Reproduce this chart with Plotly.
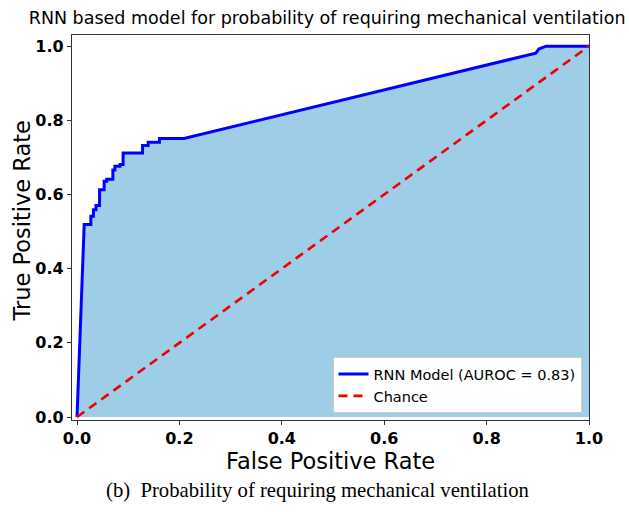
import plotly.graph_objects as go

# ROC curve
fpr = [0.0, 0.014, 0.027, 0.027, 0.032, 0.032, 0.037, 0.037, 0.044, 0.044,
       0.053, 0.053, 0.058, 0.058, 0.070, 0.070, 0.074, 0.074, 0.084, 0.084,
       0.090, 0.090, 0.128, 0.128, 0.139, 0.139, 0.161, 0.161, 0.209, 0.896,
       0.902, 0.916, 1.0]
tpr = [0.0, 0.519, 0.519, 0.541, 0.541, 0.559, 0.559, 0.570, 0.570, 0.613,
       0.613, 0.636, 0.636, 0.641, 0.641, 0.666, 0.666, 0.676, 0.676, 0.681,
       0.681, 0.712, 0.712, 0.732, 0.732, 0.741, 0.741, 0.751, 0.751, 0.981,
       0.992, 1.0, 1.0]
chance_x = [0.0, 1.0]
chance_y = [0.0, 1.0]
auroc = 0.83
tick_vals = [0.0, 0.2, 0.4, 0.6, 0.8, 1.0]
tick_text = ["0.0", "0.2", "0.4", "0.6", "0.8", "1.0"]

FONT = "DejaVu Sans"

fig = go.Figure()
fig.add_trace(go.Scatter(x=fpr, y=tpr, mode="lines", fill="tozeroy",
                         fillcolor="rgb(158,205,232)", line=dict(width=0),
                         showlegend=False, hoverinfo="skip"))
fig.add_trace(go.Scatter(x=fpr, y=tpr, mode="lines",
                         line=dict(color="#0000ff", width=3),
                         name=f"RNN Model (AUROC = {auroc:.2f})"))
fig.add_trace(go.Scatter(x=chance_x, y=chance_y, mode="lines",
                         line=dict(color="#ee0000", width=2.6, dash="9px,6px"),
                         name="Chance"))

axis_common = dict(
    showgrid=False, zeroline=False, showline=True, mirror=True,
    linecolor="#333333", linewidth=1.3, ticks="outside", ticklen=4,
    tickcolor="#333333", tickwidth=1.2,
    tickvals=tick_vals, ticktext=tick_text,
    tickfont=dict(family=FONT, size=16, color="black", weight="bold"),
)

fig.update_layout(
    width=629, height=512,
    margin=dict(l=72, r=40, t=35, b=92),
    plot_bgcolor="white", paper_bgcolor="white",
    xaxis=dict(range=[-0.0098, 1.0], **axis_common),
    yaxis=dict(range=[-0.008, 1.03], **axis_common),
    title=dict(text="RNN based model for probability of requiring mechanical ventilation",
               font=dict(family=FONT, size=17.5, color="black"),
               xref="paper", x=0.4935, xanchor="center",
               yref="container", y=1 - 18 / 512, yanchor="middle"),
    legend=dict(x=0.9855, xanchor="right", y=0.018, yanchor="bottom",
                bgcolor="white", bordercolor="#cccccc", borderwidth=1,
                font=dict(family=FONT, size=14.5, color="black"),
                tracegroupgap=0),
    showlegend=True,
)

fig.add_annotation(text="False Positive Rate", xref="paper", yref="paper",
                   x=0.5, y=0, yanchor="middle", yshift=-41, showarrow=False,
                   font=dict(family=FONT, size=22.5, color="black"))
fig.add_annotation(text="True Positive Rate", xref="paper", yref="paper",
                   x=(21.5 - 72) / 517.5, y=(420 - 221) / 385,
                   xanchor="center", yanchor="middle", textangle=-90,
                   showarrow=False,
                   font=dict(family=FONT, size=22.5, color="black"))
fig.add_annotation(text="(b)  Probability of requiring mechanical ventilation",
                   xref="paper", yref="paper",
                   x=(317.5 - 72) / 517.5, y=(420 - 490) / 385,
                   xanchor="center", yanchor="middle", showarrow=False,
                   font=dict(family="Liberation Serif", size=20.7, color="black"))

fig.write_html("out.html", config={"displayModeBar": False},
               post_script="document.body.style.margin='0';document.body.style.overflow='hidden';")
